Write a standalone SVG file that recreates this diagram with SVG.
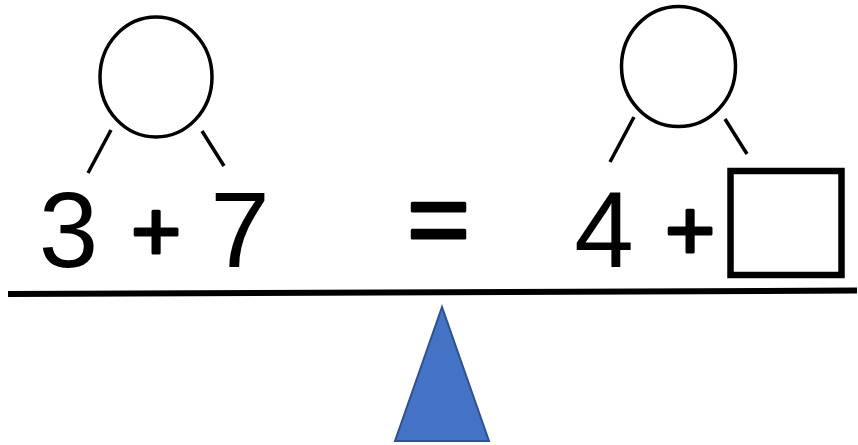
<svg xmlns="http://www.w3.org/2000/svg" width="858" height="445" viewBox="0 0 858 445">
<style>
.c{fill:none;stroke:#000;stroke-width:3.5}
.l{stroke:#000;stroke-width:3.5;fill:none}
.d{font-family:"Liberation Sans",Arial,sans-serif;font-size:107px;fill:#000;text-anchor:middle}
.p{font-family:"Liberation Sans",Arial,sans-serif;font-size:86px;fill:#000;stroke:#000;stroke-width:3;stroke-linejoin:round;text-anchor:middle}
</style>
<rect width="858" height="445" fill="#fff"/>
<g id="left-bond">
<ellipse class="c" cx="156" cy="77" rx="56" ry="60"/>
</g>
<g id="right-bond">
<ellipse class="c" cx="678.5" cy="66.5" rx="57" ry="60"/>
</g>
<g id="connectors">
<line class="l" x1="111" y1="130" x2="88" y2="173"/>
<line class="l" x1="202" y1="131" x2="224" y2="166"/>
<line class="l" x1="634" y1="117" x2="610" y2="162"/>
<line class="l" x1="725" y1="119" x2="747" y2="154"/>
</g>
<g id="left-expr">
<text class="d" x="68.5" y="267">3</text>
<text class="p" x="156" y="261">+</text>
<text class="d" x="240" y="267">7</text>
</g>
<g id="equals">
<text class="p" x="438.5" y="256" style="font-size:108px">=</text>
</g>
<g id="right-expr">
<text class="d" x="604" y="267">4</text>
<text class="p" x="690" y="260">+</text>
<rect x="730.5" y="171" width="111" height="104" fill="none" stroke="#000" stroke-width="6.5"/>
</g>
<g id="beam">
<line x1="8" y1="294" x2="857" y2="290.5" stroke="#000" stroke-width="6"/>
</g>
<g id="fulcrum">
<polygon points="442,307 395,441 489,441" fill="#4472C4" stroke="#2F528F" stroke-width="2"/>
</g>
</svg>
